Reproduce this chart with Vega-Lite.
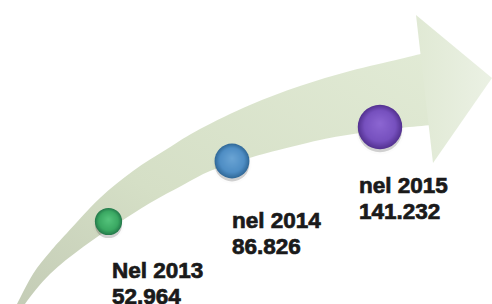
{
  "$schema": "https://vega.github.io/schema/vega-lite/v6.json",
  "width": 492,
  "height": 304,
  "autosize": "none",
  "padding": 0,
  "background": "#ffffff",
  "config": {
    "view": {"stroke": null},
    "locale": {"number": {"decimal": ",", "thousands": ".", "grouping": [3], "currency": ["€", ""]}}
  },
  "datasets": {
    "body": [
      {"o": 1, "x": 8, "y": 322}, {"o": 2, "x": 17, "y": 304}, {"o": 3, "x": 33, "y": 274},
      {"o": 4, "x": 50, "y": 252}, {"o": 5, "x": 67, "y": 233}, {"o": 6, "x": 100, "y": 198},
      {"o": 7, "x": 133, "y": 171}, {"o": 8, "x": 167, "y": 149}, {"o": 9, "x": 200, "y": 129},
      {"o": 10, "x": 250, "y": 105}, {"o": 11, "x": 300, "y": 86}, {"o": 12, "x": 350, "y": 71},
      {"o": 13, "x": 400, "y": 59}, {"o": 14, "x": 425, "y": 53}, {"o": 15, "x": 445, "y": 50},
      {"o": 16, "x": 446, "y": 124}, {"o": 17, "x": 432, "y": 125}, {"o": 18, "x": 400, "y": 128},
      {"o": 19, "x": 360, "y": 133}, {"o": 20, "x": 320, "y": 140}, {"o": 21, "x": 267, "y": 153},
      {"o": 22, "x": 240, "y": 161}, {"o": 23, "x": 210, "y": 171}, {"o": 24, "x": 183, "y": 185},
      {"o": 25, "x": 150, "y": 203}, {"o": 26, "x": 117, "y": 224}, {"o": 27, "x": 83, "y": 247},
      {"o": 28, "x": 50, "y": 274}, {"o": 29, "x": 25, "y": 304}, {"o": 30, "x": 16, "y": 322}
    ],
    "head": [
      {"o": 1, "x": 416, "y": 15}, {"o": 2, "x": 492, "y": 78}, {"o": 3, "x": 433, "y": 163}, {"o": 4, "x": 416, "y": 15}
    ],
    "years": [
      {"year": 2013, "label": "Nel 2013", "value": 52964, "x": 108.5, "y": 221.5, "lx": 112, "ly": 278},
      {"year": 2014, "label": "nel 2014", "value": 86826, "x": 232, "y": 161, "lx": 232, "ly": 228},
      {"year": 2015, "label": "nel 2015", "value": 141232, "x": 380, "y": 127, "lx": 359, "ly": 193}
    ]
  },
  "layer": [
    {
      "data": {"name": "body"},
      "mark": {
        "type": "line",
        "interpolate": "cardinal",
        "clip": true,
        "strokeWidth": 0,
        "fill": {
          "gradient": "linear", "x1": 0, "y1": 1, "x2": 1, "y2": 0,
          "stops": [
            {"offset": 0, "color": "#c2cab4"},
            {"offset": 0.4, "color": "#d5dfc6"},
            {"offset": 1, "color": "#e2ebd6"}
          ]
        }
      },
      "encoding": {
        "x": {"field": "x", "type": "quantitative", "axis": null, "scale": {"domain": [0, 492], "nice": false, "zero": false}},
        "y": {"field": "y", "type": "quantitative", "axis": null, "scale": {"domain": [0, 304], "nice": false, "zero": false, "reverse": true}},
        "order": {"field": "o", "type": "quantitative"}
      }
    },
    {
      "data": {"name": "head"},
      "mark": {
        "type": "line",
        "interpolate": "linear",
        "clip": true,
        "strokeWidth": 0,
        "fill": {
          "gradient": "linear", "x1": 0, "y1": 0.5, "x2": 1, "y2": 0.5,
          "stops": [
            {"offset": 0, "color": "#e0e9d4"},
            {"offset": 1, "color": "#ebf1e4"}
          ]
        }
      },
      "encoding": {
        "x": {"field": "x", "type": "quantitative"},
        "y": {"field": "y", "type": "quantitative"},
        "order": {"field": "o", "type": "quantitative"}
      }
    },
    {
      "data": {"name": "years"},
      "mark": {"type": "point", "shape": "circle", "filled": true, "fill": "#000000", "opacity": 0.18, "yOffset": 3, "strokeWidth": 4, "stroke": "#000000", "strokeOpacity": 0.06},
      "encoding": {
        "x": {"field": "x", "type": "quantitative"},
        "y": {"field": "y", "type": "quantitative"},
        "size": {"field": "value", "type": "quantitative", "legend": null, "scale": {"type": "linear", "domain": [0, 150000], "range": [0, 2100], "zero": true}}
      }
    },
    {
      "data": {"name": "years"},
      "mark": {"type": "point", "shape": "circle", "filled": true, "opacity": 1, "strokeWidth": 0},
      "encoding": {
        "x": {"field": "x", "type": "quantitative"},
        "y": {"field": "y", "type": "quantitative"},
        "size": {"field": "value", "type": "quantitative", "legend": null},
        "fill": {
          "condition": [
            {"test": "datum.year == 2013", "value": {"gradient": "radial", "x1": 0.5, "y1": 0.42, "r1": 0, "x2": 0.5, "y2": 0.5, "r2": 0.5,
              "stops": [{"offset": 0, "color": "#55c47c"}, {"offset": 0.7, "color": "#3aa862"}, {"offset": 1, "color": "#23784a"}]}},
            {"test": "datum.year == 2014", "value": {"gradient": "radial", "x1": 0.5, "y1": 0.42, "r1": 0, "x2": 0.5, "y2": 0.5, "r2": 0.5,
              "stops": [{"offset": 0, "color": "#6aa4d4"}, {"offset": 0.7, "color": "#4e8dc4"}, {"offset": 1, "color": "#2f6796"}]}}
          ],
          "value": {"gradient": "radial", "x1": 0.5, "y1": 0.42, "r1": 0, "x2": 0.5, "y2": 0.5, "r2": 0.5,
            "stops": [{"offset": 0, "color": "#8c66d2"}, {"offset": 0.7, "color": "#7650be"}, {"offset": 1, "color": "#52308f"}]}
        }
      }
    },
    {
      "data": {"name": "years"},
      "mark": {"type": "text", "align": "left", "baseline": "alphabetic", "font": "Liberation Sans", "fontWeight": "bold", "fontSize": 22.5, "fill": "#1a1a1a", "stroke": "#1a1a1a", "strokeWidth": 0.7},
      "encoding": {
        "x": {"field": "lx", "type": "quantitative"},
        "y": {"field": "ly", "type": "quantitative"},
        "text": {"field": "label", "type": "nominal"}
      }
    },
    {
      "data": {"name": "years"},
      "mark": {"type": "text", "align": "left", "baseline": "alphabetic", "font": "Liberation Sans", "fontWeight": "bold", "fontSize": 22.5, "fill": "#1a1a1a", "stroke": "#1a1a1a", "strokeWidth": 0.7, "dy": 26},
      "encoding": {
        "x": {"field": "lx", "type": "quantitative"},
        "y": {"field": "ly", "type": "quantitative"},
        "text": {"field": "value", "type": "quantitative", "format": ",d"}
      }
    }
  ]
}
